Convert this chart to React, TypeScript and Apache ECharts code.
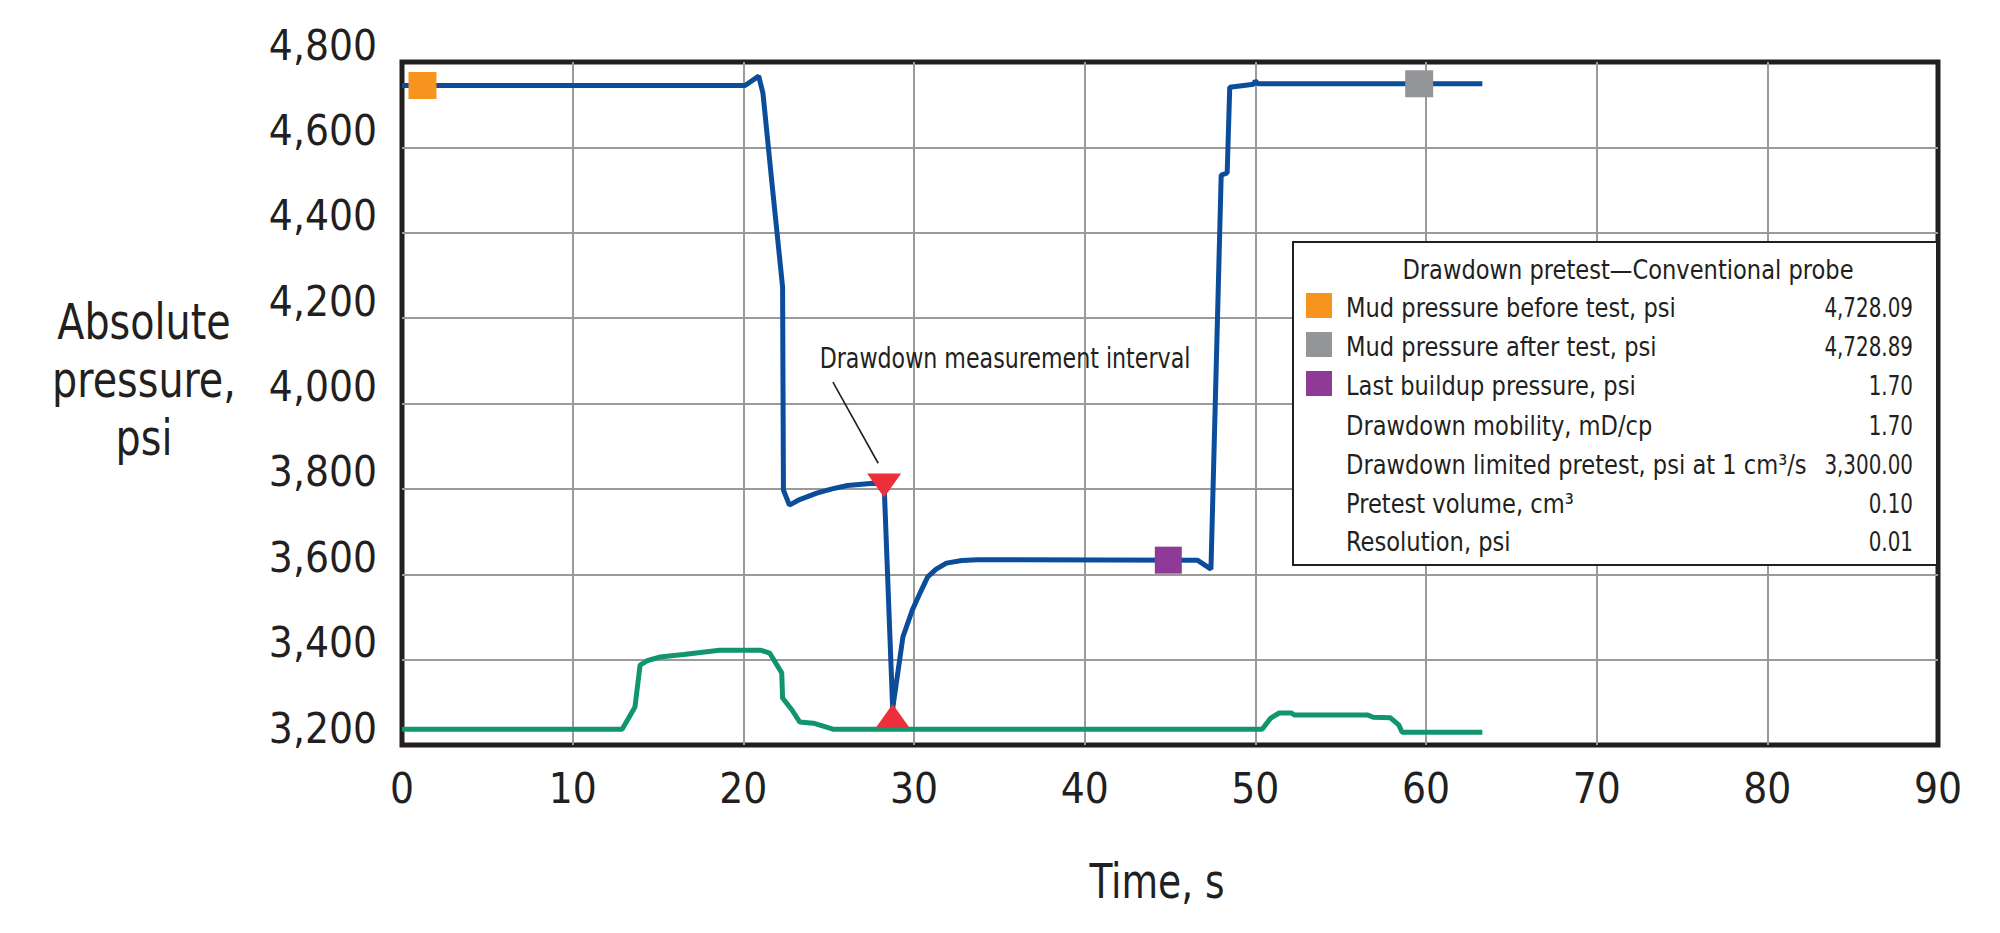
import React, { useEffect, useRef } from "react";
import * as echarts from "echarts";

const FONT = "'Liberation Sans Narrow', 'DejaVu Sans Condensed', 'Arial Narrow', Roboto, sans-serif";
const TEXT = "#231f20";
const GRID = "#9a9a9a";
const BLUE = "#0b4c9b";
const GREEN = "#11956f";
const ORANGE = "#f7941d";
const GRAY = "#939598";
const PURPLE = "#8e3a96";
const RED = "#ec2f3a";

// Blue curve: probe pressure (time s, pressure psi)
const blueTime = [0, 20.1, 20.9, 21.15, 21.7, 22.3, 22.35, 22.7, 23.3, 24.3, 25.2, 26.1, 27.6, 28.25, 28.75, 29.1, 29.35, 29.9, 30.4, 30.8, 31.3, 31.9, 32.8, 33.7, 46.6, 47.4, 48.0, 48.35, 48.5, 49.9, 50.0, 50.15, 63.3];
const bluePressure = [4745, 4745, 4767, 4727, 4507, 4273, 3797, 3762, 3775, 3790, 3800, 3808, 3813, 3810, 3285, 3383, 3453, 3516, 3560, 3594, 3612, 3626, 3632, 3634, 3633, 3612, 4535, 4540, 4741, 4748, 4756, 4749, 4749];

// Green curve
const greenTime = [0, 12.9, 13.65, 13.95, 14.4, 15.1, 16.5, 18.6, 21.0, 21.55, 22.25, 22.3, 22.85, 23.3, 24.1, 25.25, 50.4, 50.9, 51.4, 52.1, 52.3, 56.6, 56.9, 57.9, 58.4, 58.6, 63.3];
const greenPressure = [3237, 3237, 3289, 3387, 3398, 3406, 3412, 3422, 3422, 3415, 3369, 3310, 3282, 3254, 3251, 3237, 3237, 3263, 3275, 3275, 3270, 3270, 3265, 3264, 3247, 3230, 3230];

// Markers
const mudBefore = [1.2, 4745];
const mudAfter = [59.6, 4749];
const lastBuildup = [44.9, 3633];
const drawdownStart = [28.25, 3808];
const drawdownEnd = [28.75, 3268];
const leaderStart = [25.25, 4050];
const leaderEnd = [27.9, 3860];

// Axes
const xMin = 0, xMax = 90, xStep = 10;
const yMin = 3200, yMax = 4800, yStep = 200;

// Legend table
const legendTitle = "Drawdown pretest\u2014Conventional probe";
const legendLabels = [
  "Mud pressure before test, psi",
  "Mud pressure after test, psi",
  "Last buildup pressure, psi",
  "Drawdown mobility, mD/cp",
  "Drawdown limited pretest, psi at 1 cm\u00b3/s",
  "Pretest volume, cm\u00b3",
  "Resolution, psi",
];
const legendValues = ["4,728.09", "4,728.89", "1.70", "1.70", "3,300.00", "0.10", "0.01"];
const legendSwatches = [ORANGE, GRAY, PURPLE, null, null, null, null];

const zip = (a: number[], b: number[]) => a.map((v, i) => [v, b[i]]);

function txt(text: string, x: number, y: number, fontSize: number, align: string, scaleX: number, z: number, extra: any = {}) {
  return {
    type: "text",
    z,
    x,
    y,
    scaleX,
    style: {
      text, x: 0, y: 0, fill: TEXT, fontSize, fontFamily: FONT,
      textAlign: align, align, textVerticalAlign: "middle", verticalAlign: "middle",
      ...extra,
    },
  };
}

export default function App() {
  const ref = useRef<HTMLDivElement>(null);
  useEffect(() => {
    if (!ref.current) return;
    const chart = echarts.init(ref.current, null, { renderer: "svg" });

    const rowY = [308, 347, 386, 426, 465, 504, 542];
    const legendEls: any[] = [
      {
        type: "rect",
        z: 20,
        shape: { x: 1293, y: 242, width: 644, height: 323 },
        style: { fill: "#fff", stroke: TEXT, lineWidth: 2 },
      },
      txt(legendTitle, 1628, 270, 27, "center", 0.93, 21),
    ];
    legendLabels.forEach((lab, i) => {
      legendEls.push(txt(lab, 1346, rowY[i], 27, "left", 0.93, 21));
      legendEls.push(txt(legendValues[i], 1913, rowY[i], 27, "right", 0.82, 21));
      const sw = legendSwatches[i];
      if (sw) {
        legendEls.push({
          type: "rect", z: 21,
          shape: { x: 1306, y: rowY[i] - 15, width: 26, height: 25 },
          style: { fill: sw },
        });
      }
    });

    chart.setOption({
      animation: false,
      backgroundColor: "#fff",
      textStyle: { fontFamily: FONT, color: TEXT },
      grid: {
        left: 402, top: 62, width: 1536, height: 683,
        show: true, borderColor: TEXT, borderWidth: 5, backgroundColor: "transparent",
        containLabel: false, outerBoundsMode: "none",
      },
      xAxis: {
        type: "value", min: xMin, max: xMax, interval: xStep,
        axisLine: { show: false }, axisTick: { show: false },
        axisLabel: { fontSize: 42, fontFamily: FONT, color: TEXT, margin: 22 },
        splitLine: { show: true, showMinLine: false, showMaxLine: false, lineStyle: { color: GRID, width: 2 } },
      },
      yAxis: {
        type: "value", min: yMin, max: yMax, interval: yStep,
        axisLine: { show: false }, axisTick: { show: false },
        axisLabel: {
          fontSize: 42, fontFamily: FONT, color: TEXT, margin: 25,
          verticalAlign: "bottom", lineHeight: 34,
          formatter: (v: number) => v.toLocaleString("en-US"),
        },
        splitLine: { show: true, showMinLine: false, showMaxLine: false, lineStyle: { color: GRID, width: 2 } },
      },
      graphic: [
        txt("Absolute\npressure,\npsi", 144, 380, 49, "center", 0.9, 5, { lineHeight: 58 }),
        txt("Time, s", 1157, 881, 48, "center", 0.87, 5),
        txt("Drawdown measurement interval", 1005, 358, 28, "center", 0.88, 5),
        ...legendEls,
      ],
      series: [
        {
          type: "line", name: "Green", data: zip(greenTime, greenPressure),
          showSymbol: false, symbol: "none", z: 3,
          lineStyle: { color: GREEN, width: 5 },
        },
        {
          type: "line", name: "Pressure", data: zip(blueTime, bluePressure),
          showSymbol: false, symbol: "none", z: 4,
          lineStyle: { color: BLUE, width: 5 },
        },
        {
          type: "scatter", name: "Mud before", data: [mudBefore], z: 6,
          symbol: "rect", symbolSize: [28, 27], itemStyle: { color: ORANGE, opacity: 1 },
        },
        {
          type: "scatter", name: "Mud after", data: [mudAfter], z: 6,
          symbol: "rect", symbolSize: [28, 27], itemStyle: { color: GRAY, opacity: 1 },
        },
        {
          type: "scatter", name: "Last buildup", data: [lastBuildup], z: 6,
          symbol: "rect", symbolSize: [27, 27], itemStyle: { color: PURPLE, opacity: 1 },
        },
        {
          type: "scatter", name: "Drawdown start", data: [drawdownStart], z: 6,
          symbol: "triangle", symbolRotate: 180, symbolSize: [34, 24], itemStyle: { color: RED, opacity: 1 },
          markLine: {
            silent: true, symbol: ["none", "none"], animation: false,
            label: { show: false },
            lineStyle: { color: TEXT, width: 1.6, type: "solid" },
            data: [[{ coord: leaderStart }, { coord: leaderEnd }]],
          },
        },
        {
          type: "scatter", name: "Drawdown end", data: [drawdownEnd], z: 6,
          symbol: "triangle", symbolSize: [34, 24], itemStyle: { color: RED, opacity: 1 },
        },
      ],
    });
    return () => chart.dispose();
  }, []);
  return (
    <div
      ref={ref}
      style={{ position: "absolute", left: 0, top: 0, width: 2000, height: 933, background: "#fff" }}
    />
  );
}
